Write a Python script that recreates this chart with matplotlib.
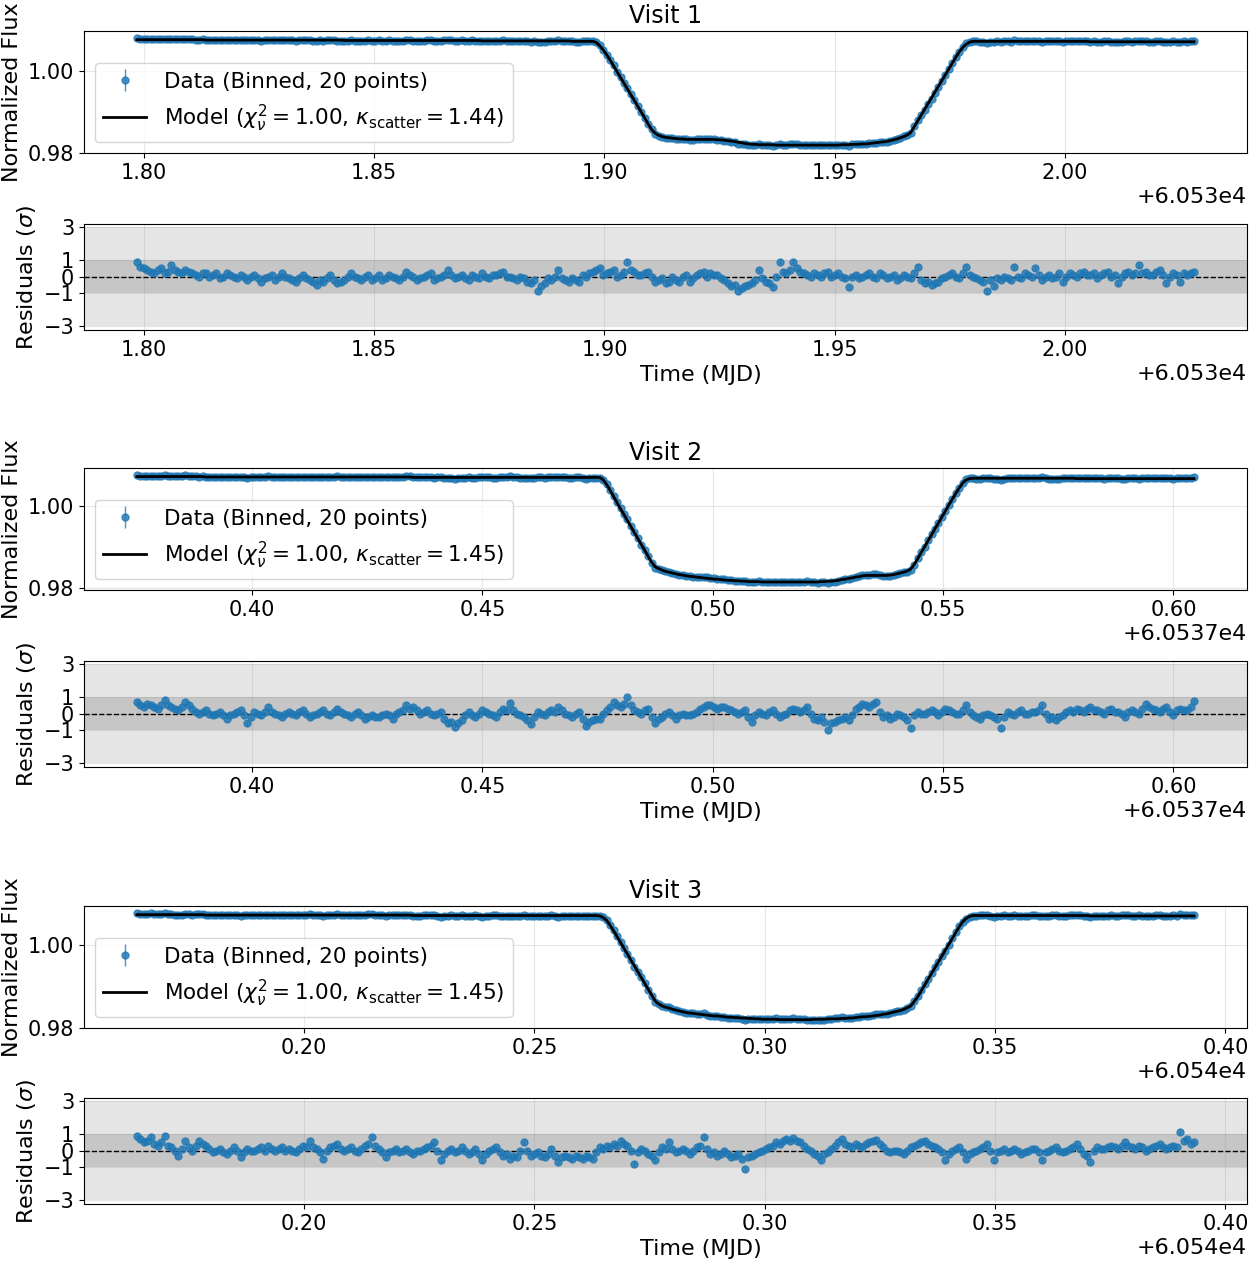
import matplotlib.pyplot as plt
import numpy as np

plt.rcParams['font.size'] = 16

# ---- data ----
visit_names = ['Visit 1', 'Visit 2', 'Visit 3']
t_start = [60531.7985, 60537.375, 60540.1637]   # MJD of first binned point
cadence = 0.00075                                 # days between binned points
chi2_nu = [1.00, 1.00, 1.00]
kappa_scatter = [1.44, 1.45, 1.45]
n_bin = 20
flux_err = 0.0004      # error of one binned point (normalized flux)
resid_err = 0.15       # residual error bar (sigma units)

# transit model sampled at the binned times
model_v1 = [
    1.0075, 1.0075, 1.0075, 1.0075, 1.0075, 1.0075, 1.0075, 1.0075, 1.0075, 1.0075,
    1.0075, 1.0075, 1.0075, 1.0075, 1.0075, 1.0075, 1.0075, 1.0075, 1.0075, 1.0075,
    1.0074, 1.0074, 1.0074, 1.0074, 1.0074, 1.0074, 1.0074, 1.0074, 1.0074, 1.0074,
    1.0074, 1.0074, 1.0074, 1.0074, 1.0074, 1.0074, 1.0074, 1.0074, 1.0074, 1.0074,
    1.0074, 1.0074, 1.0074, 1.0074, 1.0074, 1.0074, 1.0074, 1.0074, 1.0074, 1.0074,
    1.0074, 1.0074, 1.0074, 1.0074, 1.0074, 1.0074, 1.0074, 1.0074, 1.0074, 1.0074,
    1.0073, 1.0073, 1.0073, 1.0073, 1.0073, 1.0073, 1.0073, 1.0073, 1.0073, 1.0073,
    1.0073, 1.0073, 1.0073, 1.0073, 1.0073, 1.0073, 1.0073, 1.0073, 1.0073, 1.0073,
    1.0073, 1.0073, 1.0073, 1.0073, 1.0073, 1.0073, 1.0073, 1.0073, 1.0073, 1.0073,
    1.0073, 1.0073, 1.0073, 1.0073, 1.0073, 1.0073, 1.0073, 1.0073, 1.0073, 1.0073,
    1.0072, 1.0072, 1.0072, 1.0072, 1.0072, 1.0072, 1.0072, 1.0072, 1.0072, 1.0072,
    1.0072, 1.0072, 1.0072, 1.0072, 1.0072, 1.0072, 1.0072, 1.0072, 1.0072, 1.0072,
    1.0072, 1.0072, 1.0072, 1.0072, 1.0072, 1.0072, 1.0071, 1.0071, 1.0071, 1.0071,
    1.0071, 1.0071, 1.0071, 1.0068, 1.0060, 1.0050, 1.0038, 1.0025, 1.0011, 0.9997,
    0.9983, 0.9969, 0.9955, 0.9941, 0.9927, 0.9913, 0.9899, 0.9885, 0.9870, 0.9857,
    0.9848, 0.9843, 0.9840, 0.9838, 0.9837, 0.9836, 0.9835, 0.9834, 0.9834, 0.9833,
    0.9833, 0.9833, 0.9833, 0.9833, 0.9833, 0.9833, 0.9833, 0.9833, 0.9832, 0.9832,
    0.9831, 0.9830, 0.9829, 0.9828, 0.9826, 0.9825, 0.9823, 0.9822, 0.9821, 0.9821,
    0.9820, 0.9820, 0.9820, 0.9820, 0.9820, 0.9819, 0.9819, 0.9819, 0.9819, 0.9819,
    0.9819, 0.9819, 0.9819, 0.9819, 0.9819, 0.9819, 0.9819, 0.9819, 0.9819, 0.9819,
    0.9819, 0.9819, 0.9819, 0.9819, 0.9820, 0.9820, 0.9820, 0.9821, 0.9821, 0.9821,
    0.9822, 0.9822, 0.9823, 0.9824, 0.9825, 0.9826, 0.9827, 0.9828, 0.9830, 0.9832,
    0.9834, 0.9837, 0.9840, 0.9844, 0.9850, 0.9864, 0.9878, 0.9892, 0.9906, 0.9920,
    0.9934, 0.9948, 0.9962, 0.9976, 0.9990, 1.0004, 1.0018, 1.0032, 1.0045, 1.0056,
    1.0064, 1.0069, 1.0071, 1.0071, 1.0071, 1.0071, 1.0071, 1.0071, 1.0071, 1.0071,
    1.0071, 1.0071, 1.0071, 1.0071, 1.0071, 1.0071, 1.0071, 1.0071, 1.0071, 1.0071,
    1.0071, 1.0071, 1.0071, 1.0071, 1.0071, 1.0071, 1.0071, 1.0071, 1.0071, 1.0071,
    1.0071, 1.0071, 1.0071, 1.0071, 1.0071, 1.0071, 1.0070, 1.0070, 1.0070, 1.0070,
    1.0070, 1.0070, 1.0070, 1.0070, 1.0070, 1.0070, 1.0070, 1.0070, 1.0070, 1.0070,
    1.0070, 1.0070, 1.0070, 1.0070, 1.0070, 1.0070, 1.0070, 1.0070, 1.0070, 1.0070,
    1.0070, 1.0070, 1.0070, 1.0070, 1.0070, 1.0070, 1.0070,
]
model_v2 = [
    1.0072, 1.0072, 1.0072, 1.0072, 1.0072, 1.0072, 1.0072, 1.0072, 1.0072, 1.0072,
    1.0072, 1.0072, 1.0072, 1.0072, 1.0072, 1.0072, 1.0072, 1.0072, 1.0072, 1.0072,
    1.0071, 1.0071, 1.0071, 1.0071, 1.0071, 1.0071, 1.0071, 1.0071, 1.0071, 1.0071,
    1.0071, 1.0071, 1.0071, 1.0071, 1.0071, 1.0071, 1.0071, 1.0071, 1.0071, 1.0071,
    1.0071, 1.0071, 1.0071, 1.0071, 1.0071, 1.0071, 1.0071, 1.0071, 1.0071, 1.0071,
    1.0071, 1.0071, 1.0071, 1.0071, 1.0071, 1.0071, 1.0071, 1.0071, 1.0071, 1.0071,
    1.0071, 1.0071, 1.0071, 1.0071, 1.0071, 1.0071, 1.0071, 1.0071, 1.0071, 1.0071,
    1.0071, 1.0071, 1.0071, 1.0071, 1.0071, 1.0071, 1.0071, 1.0071, 1.0071, 1.0071,
    1.0070, 1.0070, 1.0070, 1.0070, 1.0070, 1.0070, 1.0070, 1.0070, 1.0070, 1.0070,
    1.0070, 1.0070, 1.0070, 1.0070, 1.0070, 1.0070, 1.0070, 1.0070, 1.0070, 1.0070,
    1.0070, 1.0070, 1.0070, 1.0070, 1.0070, 1.0070, 1.0070, 1.0070, 1.0070, 1.0070,
    1.0070, 1.0070, 1.0070, 1.0070, 1.0070, 1.0070, 1.0070, 1.0070, 1.0070, 1.0070,
    1.0070, 1.0070, 1.0070, 1.0070, 1.0070, 1.0070, 1.0070, 1.0070, 1.0070, 1.0070,
    1.0070, 1.0070, 1.0070, 1.0070, 1.0070, 1.0064, 1.0052, 1.0038, 1.0023, 1.0008,
    0.9993, 0.9979, 0.9964, 0.9950, 0.9935, 0.9921, 0.9906, 0.9892, 0.9877, 0.9863,
    0.9852, 0.9848, 0.9844, 0.9841, 0.9839, 0.9837, 0.9835, 0.9833, 0.9832, 0.9830,
    0.9829, 0.9828, 0.9827, 0.9826, 0.9825, 0.9824, 0.9823, 0.9822, 0.9822, 0.9821,
    0.9820, 0.9819, 0.9819, 0.9818, 0.9818, 0.9817, 0.9817, 0.9816, 0.9816, 0.9816,
    0.9816, 0.9815, 0.9815, 0.9815, 0.9815, 0.9815, 0.9815, 0.9815, 0.9815, 0.9815,
    0.9815, 0.9815, 0.9815, 0.9815, 0.9815, 0.9815, 0.9815, 0.9815, 0.9816, 0.9816,
    0.9817, 0.9817, 0.9818, 0.9819, 0.9821, 0.9822, 0.9824, 0.9825, 0.9827, 0.9828,
    0.9830, 0.9831, 0.9831, 0.9831, 0.9831, 0.9831, 0.9831, 0.9831, 0.9832, 0.9833,
    0.9835, 0.9837, 0.9839, 0.9842, 0.9847, 0.9858, 0.9872, 0.9887, 0.9901, 0.9916,
    0.9930, 0.9945, 0.9959, 0.9974, 0.9988, 1.0003, 1.0017, 1.0031, 1.0044, 1.0056,
    1.0064, 1.0067, 1.0068, 1.0068, 1.0068, 1.0068, 1.0068, 1.0068, 1.0068, 1.0068,
    1.0068, 1.0068, 1.0068, 1.0068, 1.0068, 1.0068, 1.0068, 1.0068, 1.0068, 1.0068,
    1.0068, 1.0068, 1.0068, 1.0068, 1.0068, 1.0068, 1.0068, 1.0068, 1.0068, 1.0068,
    1.0068, 1.0068, 1.0067, 1.0067, 1.0067, 1.0067, 1.0067, 1.0067, 1.0067, 1.0067,
    1.0067, 1.0067, 1.0067, 1.0067, 1.0067, 1.0067, 1.0067, 1.0067, 1.0067, 1.0067,
    1.0067, 1.0067, 1.0067, 1.0067, 1.0067, 1.0067, 1.0067, 1.0067, 1.0067, 1.0067,
    1.0067, 1.0067, 1.0067, 1.0067, 1.0067, 1.0067, 1.0067,
]
model_v3 = [
    1.0072, 1.0072, 1.0072, 1.0072, 1.0072, 1.0072, 1.0072, 1.0072, 1.0072, 1.0072,
    1.0072, 1.0072, 1.0072, 1.0072, 1.0072, 1.0072, 1.0072, 1.0072, 1.0072, 1.0072,
    1.0071, 1.0071, 1.0071, 1.0071, 1.0071, 1.0071, 1.0071, 1.0071, 1.0071, 1.0071,
    1.0071, 1.0071, 1.0071, 1.0071, 1.0071, 1.0071, 1.0071, 1.0071, 1.0071, 1.0071,
    1.0071, 1.0071, 1.0071, 1.0071, 1.0071, 1.0071, 1.0071, 1.0071, 1.0071, 1.0071,
    1.0071, 1.0071, 1.0071, 1.0071, 1.0071, 1.0071, 1.0071, 1.0071, 1.0071, 1.0071,
    1.0071, 1.0071, 1.0071, 1.0071, 1.0071, 1.0071, 1.0071, 1.0071, 1.0071, 1.0071,
    1.0071, 1.0071, 1.0071, 1.0071, 1.0071, 1.0071, 1.0071, 1.0071, 1.0071, 1.0071,
    1.0070, 1.0070, 1.0070, 1.0070, 1.0070, 1.0070, 1.0070, 1.0070, 1.0070, 1.0070,
    1.0070, 1.0070, 1.0070, 1.0070, 1.0070, 1.0070, 1.0070, 1.0070, 1.0070, 1.0070,
    1.0070, 1.0070, 1.0070, 1.0070, 1.0070, 1.0070, 1.0070, 1.0070, 1.0070, 1.0070,
    1.0070, 1.0070, 1.0070, 1.0070, 1.0070, 1.0070, 1.0070, 1.0070, 1.0070, 1.0070,
    1.0070, 1.0070, 1.0070, 1.0070, 1.0070, 1.0070, 1.0070, 1.0070, 1.0070, 1.0070,
    1.0070, 1.0070, 1.0070, 1.0070, 1.0069, 1.0065, 1.0058, 1.0046, 1.0033, 1.0019,
    1.0005, 0.9991, 0.9977, 0.9963, 0.9949, 0.9935, 0.9921, 0.9907, 0.9893, 0.9879,
    0.9865, 0.9858, 0.9853, 0.9850, 0.9848, 0.9845, 0.9843, 0.9841, 0.9839, 0.9837,
    0.9836, 0.9835, 0.9834, 0.9833, 0.9832, 0.9831, 0.9830, 0.9829, 0.9829, 0.9828,
    0.9827, 0.9826, 0.9826, 0.9825, 0.9825, 0.9824, 0.9824, 0.9823, 0.9823, 0.9822,
    0.9822, 0.9821, 0.9821, 0.9821, 0.9821, 0.9821, 0.9820, 0.9820, 0.9820, 0.9820,
    0.9820, 0.9820, 0.9820, 0.9820, 0.9820, 0.9820, 0.9821, 0.9821, 0.9821, 0.9821,
    0.9822, 0.9822, 0.9822, 0.9822, 0.9823, 0.9823, 0.9824, 0.9824, 0.9825, 0.9826,
    0.9827, 0.9827, 0.9828, 0.9829, 0.9830, 0.9831, 0.9833, 0.9834, 0.9836, 0.9838,
    0.9840, 0.9842, 0.9845, 0.9849, 0.9853, 0.9864, 0.9875, 0.9889, 0.9903, 0.9917,
    0.9931, 0.9945, 0.9959, 0.9973, 0.9987, 1.0001, 1.0015, 1.0029, 1.0043, 1.0055,
    1.0063, 1.0068, 1.0070, 1.0070, 1.0070, 1.0070, 1.0070, 1.0070, 1.0070, 1.0070,
    1.0070, 1.0070, 1.0070, 1.0070, 1.0070, 1.0070, 1.0070, 1.0070, 1.0070, 1.0070,
    1.0070, 1.0070, 1.0070, 1.0070, 1.0070, 1.0070, 1.0070, 1.0070, 1.0070, 1.0070,
    1.0070, 1.0070, 1.0070, 1.0070, 1.0070, 1.0070, 1.0069, 1.0069, 1.0069, 1.0069,
    1.0069, 1.0069, 1.0069, 1.0069, 1.0069, 1.0069, 1.0069, 1.0069, 1.0069, 1.0069,
    1.0069, 1.0069, 1.0069, 1.0069, 1.0069, 1.0069, 1.0069, 1.0069, 1.0069, 1.0069,
    1.0069, 1.0069, 1.0069, 1.0069, 1.0069, 1.0069, 1.0069,
]

# normalized residuals (data - model) / sigma
resid_v1 = [
    0.9, 0.6, 0.5, 0.4, 0.3, 0.2, 0.4, 0.5, 0.2, 0.3,
    0.7, 0.4, 0.3, 0.2, 0.4, 0.3, 0.2, 0.1, 0.0, 0.2,
    0.2, 0.0, 0.1, 0.2, -0.1, 0.0, 0.2, 0.1, 0.0, -0.1,
    0.1, 0.0, -0.2, 0.0, 0.1, -0.1, -0.3, -0.1, 0.0, 0.1,
    -0.2, 0.0, 0.2, 0.0, -0.1, -0.2, -0.3, -0.1, 0.1, -0.1,
    -0.2, -0.3, -0.5, -0.2, -0.3, -0.1, 0.1, -0.2, -0.4, -0.3,
    -0.2, 0.0, 0.2, 0.0, -0.1, -0.2, 0.0, 0.1, -0.2, -0.1,
    0.1, -0.2, -0.1, 0.1, 0.0, -0.1, -0.2, 0.0, 0.3, 0.1,
    0.0, -0.2, -0.1, 0.0, 0.1, 0.2, -0.2, -0.1, 0.0, 0.1,
    0.4, 0.1, -0.1, 0.0, 0.1, -0.1, -0.2, 0.1, 0.0, -0.1,
    0.2, 0.0, -0.1, 0.1, 0.1, 0.2, 0.3, 0.0, 0.0, -0.1,
    -0.2, 0.0, -0.1, -0.3, -0.4, -0.2, -0.85, -0.6, -0.4, -0.1,
    -0.2, 0.0, 0.4, -0.1, -0.2, -0.3, -0.1, -0.2, -0.3, 0.1,
    0.0, 0.2, 0.3, 0.4, 0.5, 0.1, 0.2, 0.3, 0.4, 0.0,
    0.1, 0.3, 0.9, 0.4, 0.3, 0.1, 0.1, 0.2, 0.3, 0.0,
    -0.3, -0.2, -0.1, -0.4, -0.3, 0.0, -0.2, -0.3, 0.0, 0.1,
    -0.3, -0.1, 0.1, 0.2, 0.3, 0.0, 0.2, 0.1, 0.1, -0.1,
    -0.2, -0.4, -0.6, -0.5, -0.9, -0.7, -0.6, -0.5, -0.4, -0.2,
    0.4, -0.1, -0.3, -0.4, -0.65, 0.0, 0.9, 0.3, 0.2, 0.4,
    0.9, 0.5, 0.3, 0.2, 0.1, 0.0, 0.2, 0.1, 0.0, 0.2,
    0.3, 0.0, 0.1, 0.2, 0.0, -0.1, -0.65, 0.0, 0.1, -0.1,
    0.0, 0.1, 0.2, 0.0, -0.1, 0.2, 0.1, -0.1, 0.0, 0.1,
    -0.2, -0.1, 0.1, 0.0, -0.1, 0.2, 0.6, -0.2, -0.4, -0.3,
    -0.5, -0.4, -0.3, -0.1, 0.0, 0.1, 0.2, 0.0, -0.1, 0.2,
    0.6, 0.1, 0.0, -0.1, -0.2, -0.3, -0.9, -0.2, -0.6, -0.1,
    -0.2, 0.0, -0.1, -0.2, 0.6, 0.0, -0.1, 0.2, 0.1, 0.0,
    0.5, 0.1, -0.2, 0.0, 0.1, -0.1, 0.0, 0.2, -0.3, 0.0,
    0.2, 0.1, 0.0, 0.2, 0.3, 0.1, 0.1, 0.2, -0.1, 0.1,
    0.2, 0.3, 0.0, 0.1, -0.4, 0.0, 0.2, 0.3, 0.1, 0.2,
    0.7, 0.2, 0.3, 0.1, 0.1, 0.3, 0.4, 0.1, -0.4, 0.0,
    0.2, 0.1, -0.3, 0.2, 0.1, 0.2, 0.3,
]
resid_v2 = [
    0.7, 0.5, 0.4, 0.6, 0.5, 0.4, 0.3, 0.5, 0.85, 0.5,
    0.4, 0.3, 0.2, 0.4, 0.7, 0.5, 0.3, 0.1, 0.0, 0.1,
    0.2, 0.0, -0.1, 0.0, 0.1, -0.1, -0.3, -0.1, 0.0, 0.1,
    0.2, -0.1, -0.6, -0.2, 0.1, 0.0, -0.1, 0.1, 0.4, 0.1,
    0.0, -0.1, -0.2, 0.0, 0.1, 0.0, -0.1, 0.1, 0.2, 0.0,
    -0.2, -0.1, 0.0, 0.1, 0.2, 0.0, -0.1, 0.1, 0.3, 0.1,
    0.0, -0.1, -0.2, 0.0, 0.1, -0.1, -0.3, -0.2, -0.1, -0.2,
    -0.2, -0.1, 0.0, -0.1, -0.3, 0.0, 0.1, 0.2, 0.55, 0.3,
    0.4, 0.2, 0.0, 0.1, 0.2, 0.0, -0.1, 0.0, 0.1, -0.3,
    -0.6, -0.5, -0.8, -0.6, -0.4, -0.1, 0.1, -0.1, -0.2, 0.0,
    0.2, 0.1, 0.0, -0.1, -0.2, 0.1, 0.3, 0.2, 0.65, 0.2,
    0.0, -0.1, -0.2, -0.4, -0.65, -0.2, 0.1, 0.0, -0.1, 0.1,
    0.2, 0.1, 0.4, 0.2, 0.0, -0.1, -0.2, 0.0, 0.1, -0.3,
    -0.75, -0.5, -0.4, -0.3, -0.3, 0.0, 0.2, 0.4, 0.7, 0.5,
    0.4, 0.6, 1.0, 0.5, 0.2, 0.1, 0.0, 0.2, 0.3, -0.2,
    -0.6, -0.3, -0.2, 0.0, 0.1, -0.1, -0.3, -0.1, 0.0, -0.1,
    -0.1, 0.0, 0.1, 0.3, 0.4, 0.5, 0.5, 0.4, 0.3, 0.4,
    0.4, 0.3, 0.2, 0.1, 0.0, 0.1, 0.2, -0.2, -0.5, -0.1,
    0.1, 0.0, -0.1, 0.1, 0.2, 0.0, -0.2, -0.1, 0.0, 0.2,
    0.3, 0.2, 0.1, 0.2, 0.4, 0.0, -0.3, -0.4, -0.2, -0.5,
    -1.0, -0.6, -0.5, -0.4, -0.3, -0.2, -0.4, -0.1, 0.3, 0.4,
    0.6, 0.5, 0.4, 0.6, 0.7, 0.1, -0.2, -0.1, -0.3, -0.2,
    0.0, -0.1, -0.2, -0.4, -0.85, -0.1, 0.1, 0.0, 0.0, 0.1,
    0.2, 0.1, -0.1, 0.1, 0.3, 0.2, 0.1, 0.0, 0.0, 0.2,
    0.5, 0.1, -0.1, -0.2, -0.3, -0.1, 0.0, -0.1, -0.2, -0.3,
    -0.9, -0.2, 0.1, 0.0, -0.1, 0.1, 0.2, 0.0, 0.0, 0.1,
    0.1, 0.2, 0.5, 0.0, -0.3, -0.2, -0.4, -0.2, -0.1, 0.1,
    0.2, 0.1, 0.3, 0.2, 0.1, 0.3, 0.4, 0.2, 0.2, 0.1,
    0.0, 0.2, 0.3, 0.1, 0.1, 0.0, -0.2, 0.1, 0.2, 0.1,
    0.0, 0.3, 0.6, 0.4, 0.3, 0.2, 0.1, 0.3, 0.4, 0.1,
    -0.1, 0.2, 0.3, 0.2, 0.2, 0.4, 0.75,
]
resid_v3 = [
    0.9, 0.7, 0.5, 0.6, 0.8, 0.4, 0.3, 0.5, 0.9, 0.3,
    0.2, 0.0, -0.3, 0.1, 0.6, 0.2, 0.0, 0.3, 0.6, 0.4,
    0.3, 0.1, -0.1, 0.0, 0.1, -0.1, -0.2, 0.0, 0.2, 0.0,
    -0.4, -0.1, 0.1, 0.0, 0.0, 0.1, 0.2, 0.0, 0.3, 0.1,
    0.0, 0.1, 0.2, 0.0, 0.1, 0.0, -0.1, 0.1, 0.3, 0.2,
    0.6, 0.2, 0.1, -0.1, -0.5, 0.0, 0.2, 0.3, 0.4, 0.1,
    0.0, 0.1, 0.2, 0.0, -0.1, 0.1, 0.3, 0.4, 0.8, 0.3,
    0.1, -0.1, -0.4, -0.1, 0.0, 0.1, -0.1, 0.0, 0.1, -0.1,
    -0.2, 0.0, 0.0, 0.1, 0.2, 0.3, 0.5, 0.0, -0.6, -0.2,
    0.0, 0.1, -0.1, 0.0, 0.2, 0.0, -0.2, -0.1, 0.1, -0.2,
    -0.6, -0.2, 0.0, 0.1, 0.2, -0.1, -0.3, -0.2, -0.5, -0.3,
    -0.4, 0.0, 0.5, 0.0, -0.3, -0.2, -0.1, -0.3, -0.4, -0.2,
    0.1, -0.3, -0.7, -0.4, -0.3, -0.4, -0.5, -0.3, -0.4, -0.5,
    -0.3, -0.4, -0.5, -0.1, 0.2, 0.1, 0.3, 0.2, 0.4, 0.3,
    0.6, 0.4, 0.3, 0.0, -0.8, -0.1, 0.1, 0.0, -0.2, -0.3,
    -0.6, -0.1, 0.2, 0.1, 0.5, 0.1, -0.1, 0.0, 0.1, 0.0,
    -0.2, 0.0, 0.2, 0.3, 0.8, 0.1, -0.2, -0.1, -0.3, -0.2,
    0.0, -0.2, -0.4, -0.3, -0.2, -0.5, -1.1, -0.4, -0.3, -0.2,
    -0.1, 0.0, 0.1, 0.2, 0.3, 0.5, 0.4, 0.6, 0.7, 0.6,
    0.75, 0.6, 0.5, 0.3, 0.1, 0.0, -0.2, -0.3, -0.6, -0.2,
    -0.1, 0.1, 0.3, 0.5, 0.7, 0.4, 0.3, 0.2, 0.4, 0.3,
    0.2, 0.4, 0.5, 0.6, 0.65, 0.4, 0.2, 0.0, -0.1, 0.0,
    0.0, -0.1, -0.2, 0.0, 0.2, 0.3, 0.4, 0.5, 0.6, 0.4,
    0.3, 0.2, 0.1, -0.1, -0.6, -0.2, 0.0, 0.1, 0.2, -0.1,
    -0.5, -0.2, -0.1, 0.0, 0.1, 0.2, 0.4, 0.0, -0.6, -0.1,
    0.0, 0.1, -0.1, 0.0, 0.1, 0.0, -0.2, -0.1, 0.0, 0.1,
    0.1, -0.1, -0.55, -0.1, 0.0, 0.1, 0.2, 0.0, -0.1, 0.0,
    0.1, 0.2, 0.4, 0.1, -0.2, -0.3, -0.7, 0.0, 0.2, 0.1,
    0.1, 0.2, 0.3, 0.2, 0.1, 0.3, 0.5, 0.3, 0.2, 0.1,
    0.3, 0.2, 0.0, 0.1, 0.2, 0.3, 0.4, 0.2, 0.1, 0.2,
    0.3, 0.2, 1.15, 0.6, 0.7, 0.4, 0.5,
]

models = [model_v1, model_v2, model_v3]
resids = [resid_v1, resid_v2, resid_v3]

# ---- layout (pixels of the 1250 x 1262 figure) ----
W, H = 1250, 1262
left_px, right_px = 84, 1247
flux_top = [31, 468, 906]
res_top = [224, 661, 1098]
flux_h, res_h = 122, 106

fig = plt.figure(figsize=(W / 100, H / 100), dpi=100)


def px_axes(top, height):
    return fig.add_axes([left_px / W, 1 - (top + height) / H,
                         (right_px - left_px) / W, height / H])


for k in range(3):
    model = np.array(models[k])
    resid = np.array(resids[k])
    t = t_start[k] + cadence * np.arange(len(model))
    # data rebuilt from the model and the normalized residuals
    flux = model + resid * flux_err

    # light curve panel
    ax = px_axes(flux_top[k], flux_h)
    eb = ax.errorbar(t, flux, yerr=flux_err, fmt='o', ms=5, color='tab:blue',
                     alpha=0.8, elinewidth=1, zorder=2)
    ln, = ax.plot(t, model, color='k', lw=2, zorder=3)
    ax.set_yticks([0.98, 1.00])
    ax.set_yticklabels(['0.98', '1.00'])
    ax.set_ylabel('Normalized Flux')
    ax.set_title(visit_names[k], fontsize=17)
    ax.grid(True, alpha=0.3)
    ax.tick_params(labelsize=15)
    ax.legend([eb, ln],
              ['Data (Binned, {} points)'.format(n_bin),
               r'Model ($\chi^2_\nu = {:.2f}$, $\kappa_{{\rm scatter}} = {:.2f}$)'.format(
                   chi2_nu[k], kappa_scatter[k])],
              loc='lower left', fontsize=15.5)

    # residual panel
    axr = px_axes(res_top[k], res_h)
    axr.axhspan(-3, 3, color='gray', alpha=0.2, lw=0, zorder=1)
    axr.axhspan(-1, 1, color='gray', alpha=0.3, lw=0, zorder=1)
    axr.axhline(0, color='k', ls='--', lw=1, zorder=2)
    axr.errorbar(t, resid, yerr=resid_err, fmt='o', ms=5, color='tab:blue',
                 alpha=0.8, elinewidth=1, zorder=3)
    axr.set_xlim(ax.get_xlim())
    axr.set_ylim(-3.25, 3.2)
    axr.set_yticks([-3, -1, 0, 1, 3])
    axr.set_ylabel(r'Residuals ($\sigma$)')
    axr.set_xlabel('Time (MJD)')
    axr.xaxis.label.set_x(0.53)
    axr.grid(True, alpha=0.3)
    axr.set_axisbelow(True)
    axr.tick_params(labelsize=15)

fig.savefig('out.png', dpi=100)
